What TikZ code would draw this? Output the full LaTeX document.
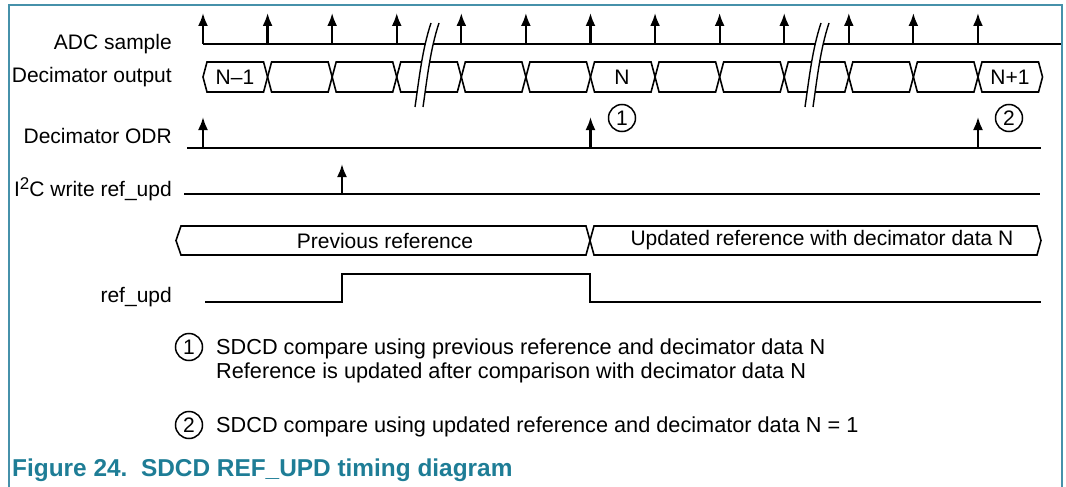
\documentclass[tikz,border=0pt]{standalone}
\usepackage{fontspec}
\setmainfont{Liberation Sans}
\usetikzlibrary{arrows.meta}
\definecolor{figteal}{RGB}{30,125,150}
\definecolor{framegray}{RGB}{70,145,170}

\begin{document}
\begin{tikzpicture}[x=1pt, y=-1pt,
    sig/.style={line width=2.2pt},
    bus/.style={line width=1.6pt, line join=miter},
    tick/.style={line width=2.2pt, -{Latex[length=13pt,width=10pt]}},
    lbl/.style={font=\fontsize{21}{25}\selectfont, inner sep=0pt},
    note/.style={font=\fontsize{21.7}{26}\selectfont, inner sep=0pt, anchor=base west},
    num/.style={draw, circle, line width=1.5pt, minimum size=27pt, inner sep=0pt, font=\fontsize{21}{25}\selectfont}]
    \useasboundingbox (0,0) rectangle (1066,487);
    \draw[framegray, line width=1.5pt] (9,487) -- (9,5) -- (1062,5) -- (1062,487);
    \node[lbl, anchor=base east] (adc) at (172,50) {ADC sample};
    \node[lbl, anchor=base east] (decout) at (172,83) {Decimator output};
    \node[lbl, anchor=base east] (odr) at (172,143) {Decimator ODR};
    \node[lbl, anchor=base east] (i2c) at (172,196) {I\raisebox{0.6ex}{\fontsize{17}{17}\selectfont 2}C write ref\_upd};
    \node[lbl, anchor=base east] (refupd) at (172,302) {ref\_upd};
    \draw[sig] (203,44) -- (1061,44);
    \foreach \k in {0,...,12}{
      \draw[tick] (203+64.58*\k,44) -- ++(0,-31);
      \draw[bus] (203+64.58*\k,77) -- ++(4,-15) -- (203+64.58*\k+60.58,62) -- ++(4,15) -- ++(-4,15) -- (203+64.58*\k+4,92) -- cycle;
    }
    \node[lbl] (nm1) at (235,77) {N--1};
    \node[lbl] (n) at (622,77) {N};
    \node[lbl] (np1) at (1010,77) {N+1};
    \foreach \c in {427,817}{
      \fill[white] (\c-12,107) .. controls (\c-8,80) and (\c-5,50) .. (\c+4,23) -- (\c+12,23) .. controls (\c+3,50) and (\c,80) .. (\c-4,107) -- cycle;
      \draw[line width=1.4pt] (\c-12,107) .. controls (\c-8,80) and (\c-5,50) .. (\c+4,23);
      \draw[line width=1.4pt] (\c-4,107) .. controls (\c,80) and (\c+3,50) .. (\c+12,23);
    }
    \draw[sig] (187,148) -- (1041,148);
    \foreach \x in {203,590.5,978}
      \draw[tick] (\x,148) -- ++(0,-31);
    \node[num] (c1) at (622,118) {1};
    \node[num] (c2) at (1009,118) {2};
    \draw[sig] (184,194) -- (1040,194);
    \draw[tick] (342,194) -- ++(0,-30);
    \draw[bus] (176,240.5) -- (181,226) -- (586,226) -- (594,255) -- (1037,255) -- (1041,240.5) -- (1037,226) -- (594,226) -- (586,255) -- (181,255) -- cycle;
    \node[lbl] (prev) at (385,240.5) {Previous reference};
    \node[lbl] (upd) at (822,240.5) {Updated reference with decimator data N};
    \draw[sig] (205,302) -- (342,302) -- (342,274) -- (590,274) -- (590,302) -- (1041,302);
    \node[num] (k1) at (189,347) {1};
    \node[note] (note1) at (216,354) {SDCD compare using previous reference and decimator data N};
    \node[note] (note1b) at (216,378) {Reference is updated after comparison with decimator data N};
    \node[num] (k2) at (189,425) {2};
    \node[note] (note2) at (216,432) {SDCD compare using updated reference and decimator data N = 1};
    \node[note, text=figteal, font=\fontsize{24.4}{28}\selectfont\bfseries] (cap) at (12,476) {Figure 24.\ \ SDCD REF\_UPD timing diagram};
  \end{tikzpicture}
\end{document}
